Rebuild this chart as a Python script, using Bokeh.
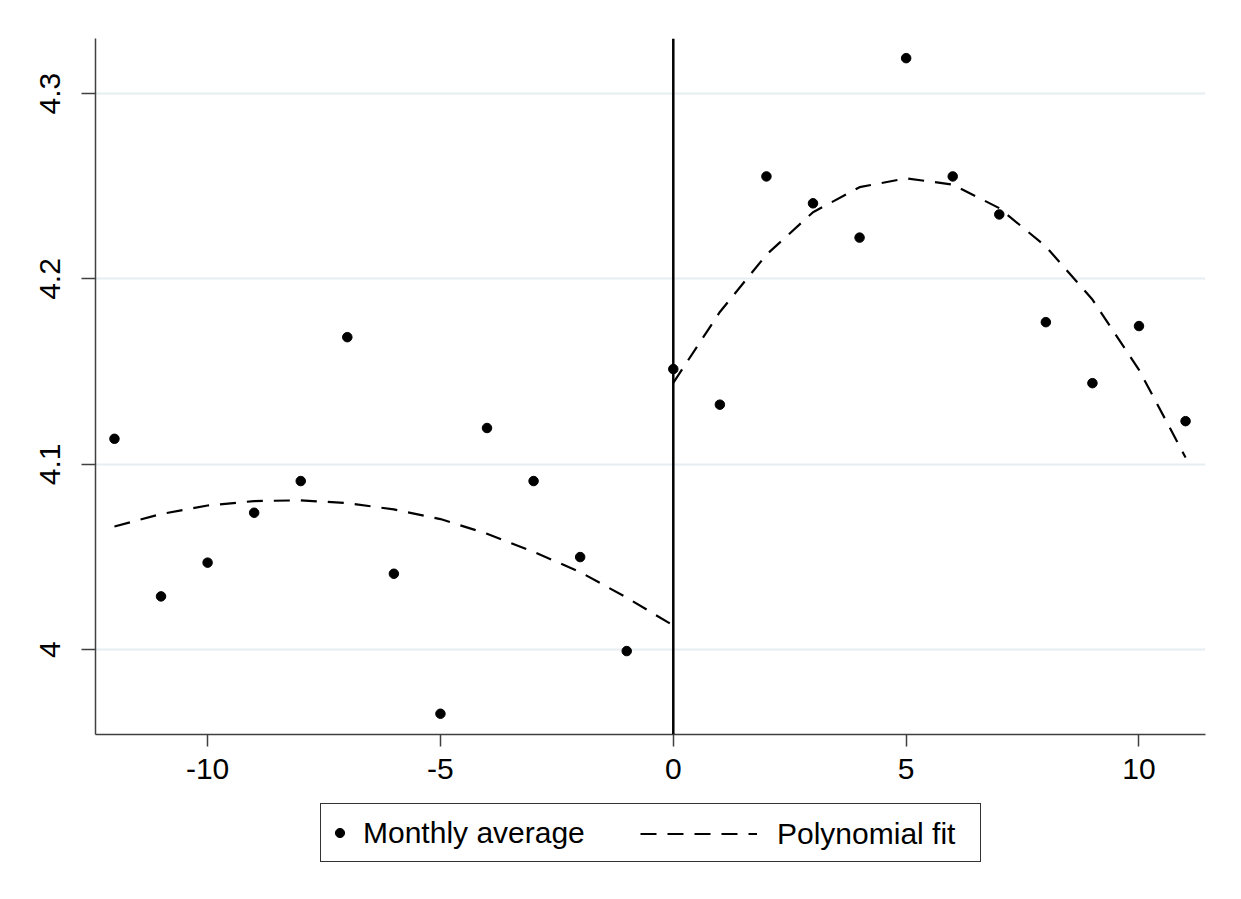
from bokeh.plotting import figure
from bokeh.layouts import column
from bokeh.models import Span, Legend, LegendItem, FixedTicker
from bokeh.embed import file_html
from bokeh.resources import INLINE

# ---- data ----
months_pre = [-12, -11, -10, -9, -8, -7, -6, -5, -4, -3, -2, -1]
avg_pre = [4.1138, 4.0288, 4.0470, 4.0739, 4.0910, 4.1686,
           4.0410, 3.9655, 4.1196, 4.0910, 4.0500, 3.9993]
months_post = [0, 1, 2, 3, 4, 5, 6, 7, 8, 9, 10, 11]
avg_post = [4.1514, 4.1322, 4.2553, 4.2408, 4.2223, 4.3191,
            4.2553, 4.2348, 4.1767, 4.1438, 4.1746, 4.1233]
fit_pre_x = [-12, -11, -10, -9, -8, -7, -6, -5, -4, -3, -2, -1, 0]
fit_pre_y = [4.0665, 4.0732, 4.0778, 4.0802, 4.0806, 4.0791, 4.0757,
             4.0705, 4.0626, 4.0528, 4.0419, 4.0281, 4.0131]
fit_post_x = [0, 1, 2, 3, 4, 5, 6, 7, 8, 9, 10, 11]
fit_post_y = [4.1440, 4.1822, 4.2131, 4.2360, 4.2495, 4.2543,
              4.2509, 4.2382, 4.2175, 4.1889, 4.1510, 4.1037]
x_ticks = [-10, -5, 0, 5, 10]
x_tick_labels = ["-10", "-5", "0", "5", "10"]
y_ticks = [4.0, 4.1, 4.2, 4.3]
y_tick_labels = ["4", "4.1", "4.2", "4.3"]
legend_labels = ["Monthly average", "Polynomial fit"]

FONT = "Liberation Sans"
AXIS_COLOR = "#404040"
DASH = "16 11"
FIT_W = 2.2
DOT = 9.5

# ---- main plot ----
p = figure(width=1238, height=790,
           x_range=(-12.407, 11.428), y_range=(3.9543, 4.3297),
           output_backend="svg", toolbar_location=None,
           min_border_left=95, min_border_right=33,
           min_border_top=38, min_border_bottom=56)
p.outline_line_color = None
p.background_fill_color = "white"
p.border_fill_color = "white"

p.xaxis.ticker = FixedTicker(ticks=x_ticks)
p.yaxis.ticker = FixedTicker(ticks=y_ticks)
p.xaxis.major_label_overrides = dict(zip(x_ticks, x_tick_labels))
p.yaxis.major_label_overrides = dict(zip(y_ticks, y_tick_labels))
for ax in (p.xaxis, p.yaxis):
    ax.axis_line_color = AXIS_COLOR
    ax.axis_line_width = 1.5
    ax.major_tick_line_color = AXIS_COLOR
    ax.major_tick_line_width = 1.5
    ax.minor_tick_line_color = None
    ax.major_tick_in = 0
    ax.major_label_text_font = FONT
    ax.major_label_text_font_size = "30px"
    ax.major_label_text_color = "black"
p.xaxis.major_tick_out = 12
p.yaxis.major_tick_out = 14
p.xaxis.major_label_standoff = 12
p.yaxis.major_label_standoff = 21
p.yaxis.major_label_orientation = "vertical"

p.xgrid.visible = False
p.ygrid.grid_line_color = "#e6eef1"
p.ygrid.grid_line_width = 2

p.add_layout(Span(location=0, dimension="height", line_color="black", line_width=2.5))

p.line(fit_pre_x, fit_pre_y, line_color="black", line_width=FIT_W, line_dash=DASH)
p.line(fit_post_x, fit_post_y, line_color="black", line_width=FIT_W, line_dash=DASH)
p.scatter(months_pre, avg_pre, size=DOT, color="black")
p.scatter(months_post, avg_post, size=DOT, color="black")

# ---- legend strip below the plot ----
q = figure(width=1238, height=100, x_range=(0, 1), y_range=(0, 1),
           output_backend="svg", toolbar_location=None,
           x_axis_type=None, y_axis_type=None,
           min_border=0)
q.outline_line_color = None
q.grid.visible = False
q.background_fill_color = "white"
q.border_fill_color = "white"
# legend key renderers (same series; their marks fall outside this strip's ranges)
key_pts = q.scatter(months_pre, avg_pre, size=DOT, color="black")
key_fit = q.line(fit_pre_x, fit_pre_y, line_color="black", line_width=FIT_W, line_dash=DASH)

leg1 = Legend(items=[LegendItem(label=legend_labels[0], renderers=[key_pts])],
              location=(225, 28), orientation="horizontal",
              glyph_width=23, glyph_height=43, label_height=43, label_width=610,
              label_standoff=12, padding=7, spacing=0, margin=0,
              border_line_color="#333333", border_line_width=1.5,
              border_line_alpha=1,
              background_fill_color="white", background_fill_alpha=1,
              label_text_font=FONT, label_text_font_size="30px",
              label_text_color="black")
leg2 = Legend(items=[LegendItem(label=legend_labels[1], renderers=[key_fit])],
              location=(538, 28), orientation="horizontal",
              glyph_width=117, glyph_height=43, label_height=43,
              label_standoff=20, padding=7, spacing=0, margin=0,
              border_line_alpha=0, background_fill_alpha=0,
              label_text_font=FONT, label_text_font_size="30px",
              label_text_color="black")
q.add_layout(leg1, "center")
q.add_layout(leg2, "center")

layout = column(p, q, spacing=0)
open("out.html", "w").write(file_html(layout, INLINE))
